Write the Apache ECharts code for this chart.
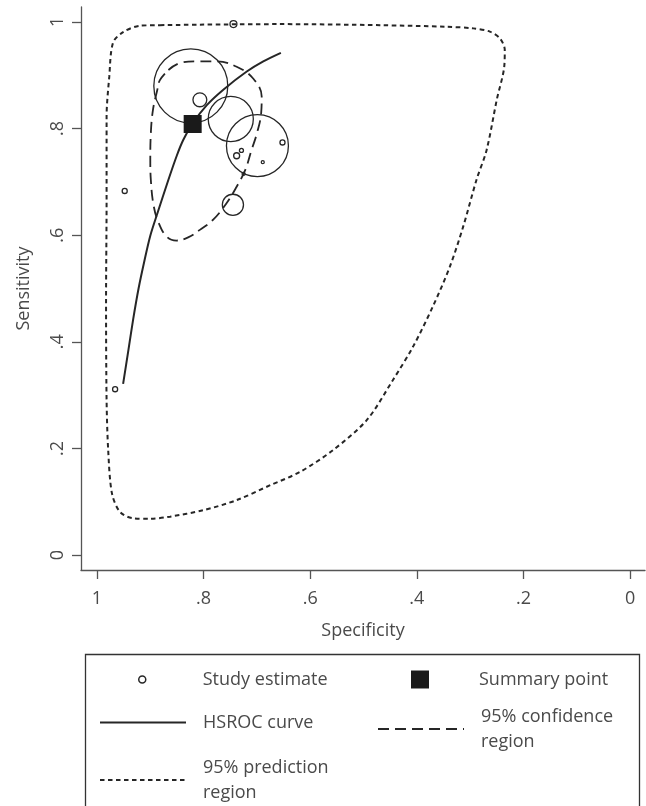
<!DOCTYPE html>
<html><head><meta charset="utf-8">
<script src="https://cdn.jsdelivr.net/npm/echarts@6/dist/echarts.min.js"></script>
<style>html,body{margin:0;padding:0;background:#fff}#c{width:646px;height:806px}</style>
</head><body><div id="c"></div>
<script>
// ---- data ----
const tickValues = [0, 0.2, 0.4, 0.6, 0.8, 1];
const tickLabels = ['0', '.2', '.4', '.6', '.8', '1'];

const studySpec = [0.744, 0.824, 0.807, 0.749, 0.699, 0.652, 0.738, 0.729, 0.689, 0.725, 0.745, 0.948, 0.966];
const studySens = [0.996, 0.880, 0.854, 0.818, 0.768, 0.774, 0.749, 0.759, 0.737, 0.715, 0.657, 0.683, 0.311];
const studyWeights = [3, 342, 12, 127, 240, 1.6, 2.25, 1, 0.56, 0.56, 28, 1.6, 1.6];

const summarySpec = [0.8205];
const summarySens = [0.8086];

const hsrocSpec = [0.951, 0.941, 0.932, 0.922, 0.911, 0.900, 0.886, 0.866, 0.850, 0.838, 0.821, 0.794, 0.763, 0.719, 0.688, 0.655];
const hsrocSens = [0.321, 0.385, 0.443, 0.500, 0.552, 0.599, 0.643, 0.704, 0.750, 0.779, 0.809, 0.844, 0.873, 0.907, 0.926, 0.942];

const confSpec = [0.866, 0.844, 0.813, 0.775, 0.738, 0.707, 0.691, 0.692, 0.700, 0.710, 0.722, 0.738, 0.757, 0.782, 0.807, 0.829, 0.851, 0.869, 0.885, 0.894, 0.899, 0.900, 0.899, 0.895, 0.887, 0.882, 0.866];
const confSens = [0.910, 0.923, 0.926, 0.926, 0.916, 0.894, 0.860, 0.829, 0.791, 0.760, 0.722, 0.691, 0.660, 0.629, 0.610, 0.596, 0.590, 0.597, 0.625, 0.657, 0.704, 0.741, 0.791, 0.835, 0.872, 0.891, 0.910];

const predSpec = [0.882, 0.807, 0.657, 0.469, 0.344, 0.294, 0.263, 0.244, 0.235, 0.236, 0.250, 0.269, 0.288, 0.313, 0.338, 0.370, 0.407, 0.445, 0.494, 0.557, 0.619, 0.675, 0.738, 0.801, 0.863, 0.901, 0.933, 0.957, 0.972, 0.979, 0.982, 0.983, 0.982, 0.982, 0.977, 0.970, 0.951, 0.919, 0.882];
const predSens = [0.994, 0.995, 0.996, 0.994, 0.991, 0.988, 0.982, 0.969, 0.948, 0.916, 0.854, 0.760, 0.704, 0.616, 0.541, 0.466, 0.391, 0.328, 0.253, 0.197, 0.156, 0.131, 0.103, 0.084, 0.072, 0.068, 0.069, 0.081, 0.116, 0.197, 0.291, 0.478, 0.666, 0.822, 0.897, 0.961, 0.981, 0.993, 0.994];

// ---- helpers ----
const zip = (a, b) => a.map((v, i) => [v, b[i]]);
const FONT = "'Open Sans', 'Noto Sans', sans-serif";
const TXT = '#4a4a4a';
const INK = '#262626';
const labelFor = v => {
  const i = tickValues.findIndex(t => Math.abs(t - v) < 1e-6);
  return i >= 0 ? tickLabels[i] : '';
};
const textBase = { fontFamily: FONT, fontSize: 18, fontWeight: 400, color: TXT };

const axisCommon = {
  type: 'value',
  splitLine: { show: false },
  axisLine: { show: true, onZero: false, lineStyle: { color: '#555', width: 1.3 } },
  axisTick: { show: true, customValues: tickValues, length: 9, lineStyle: { color: '#555', width: 1.3 } },
  nameLocation: 'middle',
  nameTextStyle: textBase
};

function legendItem(name, left, top, itemWidth, itemHeight, padLeft, extra) {
  return Object.assign({
    data: [name], left: left, top: top, padding: 0, orient: 'vertical',
    itemWidth: itemWidth, itemHeight: itemHeight, selectedMode: false,
    formatter: n => n.replace(' region', '\nregion'),
    textStyle: Object.assign({}, textBase, { lineHeight: 25, padding: [0, 0, 0, padLeft] })
  }, extra || {});
}

const chart = echarts.init(document.getElementById('c'), null, { renderer: 'canvas' });
chart.setOption({
  animation: false,
  backgroundColor: '#fff',
  grid: { left: 81, top: 7, width: 564, height: 563 },
  xAxis: Object.assign({}, axisCommon, {
    inverse: true, min: -0.0281, max: 1.0300,
    name: 'Specificity', nameGap: 52,
    axisLabel: Object.assign({ customValues: tickValues, formatter: labelFor, margin: 20 }, textBase)
  }),
  yAxis: Object.assign({}, axisCommon, {
    min: -0.0281, max: 1.0281,
    name: 'Sensitivity', nameGap: 48, nameRotate: 90,
    axisLabel: Object.assign({ customValues: tickValues, formatter: labelFor, rotate: 90, margin: 14 }, textBase)
  }),
  legend: [
    legendItem('Study estimate', 138, 667, 7, 7, 52, { itemStyle: { color: 'rgba(0,0,0,0)', borderColor: INK, borderWidth: 1.5, opacity: 1 } }),
    legendItem('Summary point', 411, 667, 18, 18, 45, { itemStyle: { color: '#1a1a1a', borderWidth: 0, opacity: 1 } }),
    legendItem('HSROC curve', 99, 710, 86, 7, 12, { itemStyle: { opacity: 0 }, lineStyle: { color: INK, width: 2, type: 'solid' } }),
    legendItem('95% confidence region', 377, 704, 86, 7, 12, { itemStyle: { opacity: 0 }, lineStyle: { color: INK, width: 2, type: [11, 6] } }),
    legendItem('95% prediction region', 99, 755, 86, 7, 12, { itemStyle: { opacity: 0 }, lineStyle: { color: INK, width: 2, type: [4.5, 3.5] } })
  ],
  graphic: [{
    type: 'rect', silent: true,
    shape: { x: 85.5, y: 654.5, width: 554, height: 170 },
    style: { fill: 'none', stroke: '#333', lineWidth: 1.3 }
  }],
  series: [
    {
      name: '95% prediction region', type: 'line', data: zip(predSpec, predSens),
      symbol: 'none', smooth: 0.3, silent: true,
      lineStyle: { color: INK, width: 2, type: [4.5, 3.5] }
    },
    {
      name: '95% confidence region', type: 'line', data: zip(confSpec, confSens),
      symbol: 'none', smooth: 0.4, silent: true,
      lineStyle: { color: INK, width: 1.8, type: [11, 6] }
    },
    {
      name: 'HSROC curve', type: 'line', data: zip(hsrocSpec, hsrocSens),
      symbol: 'none', smooth: 0.3, silent: true,
      lineStyle: { color: INK, width: 2, type: 'solid' }
    },
    {
      name: 'Study estimate', type: 'scatter',
      data: studySpec.map((s, i) => [s, studySens[i], studyWeights[i]]),
      symbol: 'circle', symbolSize: v => 4 * Math.sqrt(v[2]), silent: true,
      itemStyle: { color: 'rgba(0,0,0,0)', borderColor: INK, borderWidth: 1.3, opacity: 1 }
    },
    {
      name: 'Summary point', type: 'scatter', data: zip(summarySpec, summarySens),
      symbol: 'rect', symbolSize: 18, silent: true, z: 5,
      itemStyle: { color: '#1a1a1a', opacity: 1 }
    }
  ]
});
</script>
</body></html>
